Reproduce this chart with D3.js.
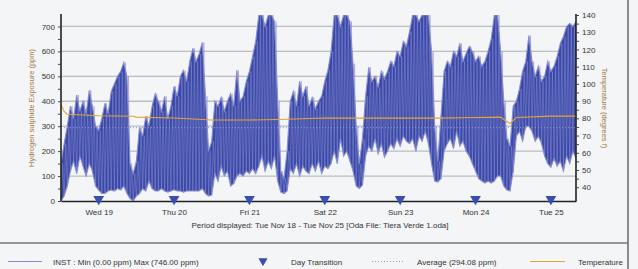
<!DOCTYPE html>
<html>
<head>
<meta charset="utf-8">
<script src="https://cdn.jsdelivr.net/npm/d3@7"></script>
<style>
  body { margin: 0; background: #f3f5f7; }
  svg { display: block; font-family: "Liberation Sans", Arial, sans-serif; }
</style>
</head>
<body>
<script>
// hourly readings from Tue Nov 18 12:00 to Tue Nov 25 08:00 (165 hours)
var startTime = new Date(2008, 10, 18, 12);
var endTime = new Date(2008, 10, 25, 8);

// max reading per hour (ppm)
var hiPpm = [150, 230, 300, 380, 330, 425, 360, 400, 350, 444, 380, 300, 284, 330, 392, 350,
  440, 470, 500, 520, 556, 500, 150, 110, 160, 296, 260, 340, 300, 380, 430, 400, 360, 420, 330,
  380, 460, 420, 500, 524, 480, 560, 612, 560, 590, 636, 420, 200, 240,
  400, 380, 415, 360, 400, 430, 380, 524, 400, 420, 480, 520, 580, 640,
  746, 746, 700, 746, 746, 720, 400, 120, 90, 200, 400, 440, 380, 480, 420, 460,
  380, 415, 370, 400, 420, 480, 524, 600, 746, 746, 700, 746, 746, 720, 550, 300, 150, 250,
  420, 536, 480, 500, 456, 520, 490, 520, 560, 540, 600, 580, 640, 620,
  680, 746, 746, 720, 746, 746, 746, 600, 300, 160, 340,
  520, 560, 540, 600, 580, 632, 560, 592, 620, 600, 560, 580, 540, 560, 600, 650,
  746, 746, 600, 400, 250, 220, 380, 400, 450, 520, 560, 664, 560, 500, 540, 480,
  500, 560, 520, 540, 580, 632, 660, 700, 712, 700, 720];

// min reading per hour (ppm)
var loPpm = [0, 20, 60, 120, 160, 110, 180, 140, 100, 150, 120, 60, 44, 30, 30, 40,
  44, 40, 50, 44, 60, 30, 10, 0, 20, 30, 50, 40, 80, 50, 40, 40, 50, 40, 35,
  40, 45, 40, 40, 35, 40, 40, 40, 40, 40, 50, 30, 20, 24,
  110, 80, 140, 100, 120, 60, 70, 100, 110, 100, 120, 110, 130, 110,
  140, 180, 120, 160, 130, 180, 80, 36, 30, 40, 130, 110, 150, 100, 140, 120,
  110, 150, 120, 160, 110, 140, 130, 150, 200, 150, 250, 180, 200, 160, 120, 60, 50, 64,
  180, 220, 200, 250, 190, 230, 176, 200, 230, 210, 250, 220, 260, 240,
  230, 250, 200, 260, 240, 280, 230, 150, 80, 76, 90,
  200, 230, 250, 210, 280, 220, 240, 200, 180, 150, 120, 90, 80, 72, 80, 72,
  80, 100, 100, 60, 44, 40, 120, 260, 280, 240, 300, 300, 280, 240, 260, 232,
  180, 150, 136, 170, 140, 160, 120, 180, 150, 200, 170];

var averagePpm = 294.08;
var maxPpm = 746;

// temperature (degrees F) at hour offsets
var tempHours = [0, 1, 2, 12, 23, 24, 36, 48, 60, 72, 84, 96, 108, 120, 132, 140, 142, 143, 145, 156, 164];
var tempVals = [88, 84, 82.4, 81.5, 81.2, 80.7, 80.2, 79, 79, 79.5, 80.2, 80.1, 80.1, 80.1, 80.5, 80.7, 78, 77, 80.5, 81.3, 81.3];

var dayLabels = ["Wed 19", "Thu 20", "Fri 21", "Sat 22", "Sun 23", "Mon 24", "Tue 25"];
var dayTimes = dayLabels.map(function(d, i) { return new Date(2008, 10, 19 + i); });

var ppmTicks = d3.range(0, 701, 50);
var tempTicks = d3.range(40, 141, 5);

var width = 638, height = 269;
var hour = 3600 * 1000;

var svg = d3.select("body").append("svg")
    .attr("width", width)
    .attr("height", height);

svg.append("rect").attr("width", width).attr("height", height).attr("fill", "#f3f5f7");

var x = d3.scaleTime().domain([startTime, endTime]).range([61, 576]);
var y = d3.scaleLinear().domain([0, maxPpm]).range([201, 15]);
var yT = d3.scaleLinear().domain([32, 140]).range([201, 15]);

svg.append("clipPath").attr("id", "plotClip")
  .append("rect").attr("x", 61).attr("y", 15).attr("width", 515).attr("height", 186);

// grid
svg.append("g").selectAll("line")
    .data(d3.range(100, 701, 100))
    .enter().append("line")
    .attr("x1", 61).attr("x2", 576)
    .attr("y1", function(d) { return y(d); })
    .attr("y2", function(d) { return y(d); })
    .attr("stroke", "#bdbdbd")
    .attr("stroke-width", 1.3);

var plot = svg.append("g").attr("clip-path", "url(#plotClip)");

var readings = hiPpm.map(function(h, i) {
  return { t: new Date(startTime.getTime() + i * hour), hi: h, lo: loPpm[i] };
});

var area = d3.area()
    .x(function(d) { return x(d.t); })
    .y0(function(d) { return y(d.lo); })
    .y1(function(d) { return y(d.hi); });

plot.append("path")
    .datum(readings)
    .attr("d", area)
    .attr("fill", "#3a49a8");

// zigzag between each hour's min and max, as lighter streaks
var zig = [];
readings.forEach(function(d) {
  zig.push({ t: d.t, v: d.lo });
  zig.push({ t: new Date(d.t.getTime() + hour / 2), v: d.hi });
});

plot.append("path")
    .datum(zig)
    .attr("d", d3.line()
      .x(function(d) { return x(d.t); })
      .y(function(d) { return y(d.v); }))
    .attr("fill", "none")
    .attr("stroke", "#8a8ed0")
    .attr("stroke-width", 0.7)
    .attr("stroke-opacity", 0.7);

// lighter envelope edges
["hi", "lo"].forEach(function(k) {
  plot.append("path")
      .datum(readings)
      .attr("d", d3.line()
        .x(function(d) { return x(d.t); })
        .y(function(d) { return y(d[k]); }))
      .attr("fill", "none")
      .attr("stroke", "#8a8ed0")
      .attr("stroke-width", 1.1);
});

// average line
svg.append("line")
    .attr("x1", 61).attr("x2", 576)
    .attr("y1", y(averagePpm)).attr("y2", y(averagePpm))
    .attr("stroke", "#9a9ad6")
    .attr("stroke-dasharray", "1,2");

// temperature
var tempLine = d3.line()
    .x(function(d, i) { return x(new Date(startTime.getTime() + tempHours[i] * hour)); })
    .y(function(d) { return yT(d); });

plot.append("path")
    .datum(tempVals)
    .attr("d", tempLine)
    .attr("fill", "none")
    .attr("stroke", "#e3a432")
    .attr("stroke-width", 1.1);

// axes
var leftAxis = svg.append("g")
    .attr("transform", "translate(61,0)")
    .call(d3.axisLeft(y).tickValues(ppmTicks).tickSize(3)
      .tickFormat(function(d) { return d % 100 === 0 ? d : ""; }));

var rightAxis = svg.append("g")
    .attr("transform", "translate(576,0)")
    .call(d3.axisRight(yT).tickValues(tempTicks).tickSize(3)
      .tickFormat(function(d) { return d % 10 === 0 ? d : ""; }));

[leftAxis, rightAxis].forEach(function(a) {
  a.select(".domain").attr("stroke", "#222").attr("stroke-width", 1.6)
    .attr("d", "M0,14V201");
  a.selectAll(".tick line").attr("stroke", "#444");
  a.selectAll(".tick text").attr("font-size", 8).attr("fill", "#333")
    .attr("font-family", "Liberation Sans, Arial, sans-serif");
});
leftAxis.selectAll(".tick text").attr("x", -6);
rightAxis.selectAll(".tick text").attr("x", 6);

var bottomAxis = svg.append("g")
    .attr("transform", "translate(0,201)")
    .call(d3.axisBottom(x).tickValues(dayTimes).tickSize(0)
      .tickFormat(function(d, i) { return dayLabels[i]; }));
bottomAxis.select(".domain").attr("stroke", "#222").attr("stroke-width", 1.6);
bottomAxis.selectAll(".tick text").attr("font-size", 8).attr("fill", "#333").attr("dy", 0).attr("y", 14)
    .attr("font-family", "Liberation Sans, Arial, sans-serif");

// day transition markers
svg.append("g").selectAll("path")
    .data(dayTimes)
    .enter().append("path")
    .attr("d", d3.symbol().type(d3.symbolTriangle).size(50))
    .attr("transform", function(d) { return "translate(" + x(d) + ",199) rotate(180)"; })
    .attr("fill", "#3a4db0");

// titles
svg.append("text")
    .attr("transform", "translate(34,108) rotate(-90)")
    .attr("text-anchor", "middle")
    .attr("font-size", 7.5)
    .attr("fill", "#a67a40")
    .text("Hydrogen sulphide Exposure (ppm)");

svg.append("text")
    .attr("transform", "translate(602,108) rotate(90)")
    .attr("text-anchor", "middle")
    .attr("font-size", 7.5)
    .attr("fill", "#a67a40")
    .text("Temperature (degrees f)");

svg.append("text")
    .attr("x", 320).attr("y", 228)
    .attr("text-anchor", "middle")
    .attr("font-size", 8)
    .attr("fill", "#333")
    .text("Period displayed: Tue Nov 18 - Tue Nov 25  [Oda File: Tiera Verde 1.oda]");

// frame
svg.append("line").attr("x1", 628).attr("x2", 628).attr("y1", 0).attr("y2", 269)
    .attr("stroke", "#8a8a8a").attr("stroke-width", 2);
svg.append("line").attr("x1", 0).attr("x2", 628).attr("y1", 243).attr("y2", 243)
    .attr("stroke", "#777").attr("stroke-width", 1.5);

// legend
var lg = svg.append("g").attr("font-size", 8).attr("fill", "#333");
lg.append("line").attr("x1", 8).attr("x2", 42).attr("y1", 261.5).attr("y2", 261.5)
    .attr("stroke", "#8488cc").attr("stroke-width", 1.2);
lg.append("text").attr("x", 53).attr("y", 264.5).text("INST : Min (0.00 ppm)  Max (746.00 ppm)");
lg.append("path").attr("d", d3.symbol().type(d3.symbolTriangle).size(36))
    .attr("transform", "translate(263,261) rotate(180)").attr("fill", "#3a4db0");
lg.append("text").attr("x", 291).attr("y", 264.5).text("Day Transition");
lg.append("line").attr("x1", 372).attr("x2", 405).attr("y1", 261.5).attr("y2", 261.5)
    .attr("stroke", "#9a9ad6").attr("stroke-dasharray", "1,2");
lg.append("text").attr("x", 417).attr("y", 264.5).text("Average (294.08 ppm)");
lg.append("line").attr("x1", 530).attr("x2", 565).attr("y1", 261.5).attr("y2", 261.5)
    .attr("stroke", "#e3a432").attr("stroke-width", 1.2);
lg.append("text").attr("x", 578).attr("y", 264.5).text("Temperature");
</script>
</body>
</html>
